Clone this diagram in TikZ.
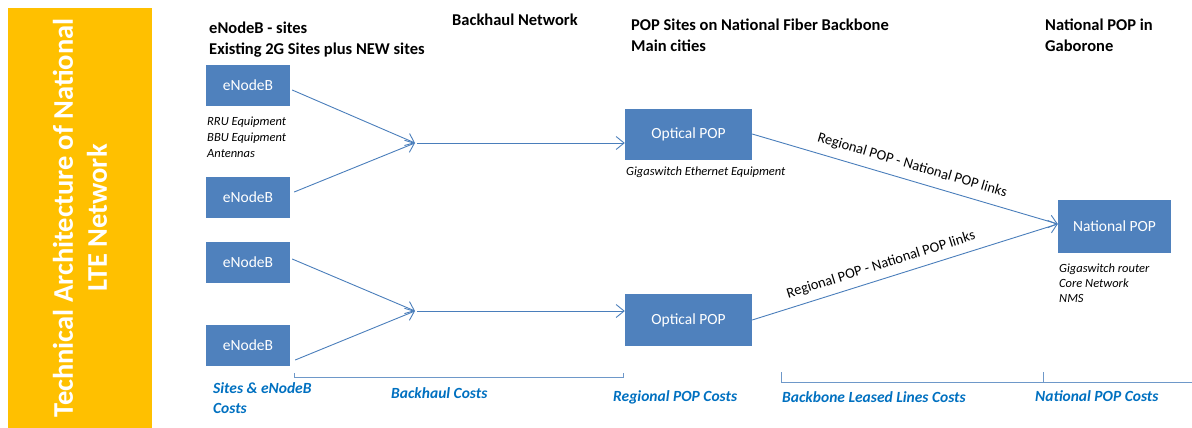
\documentclass[tikz,border=0pt]{standalone}
\usepackage{fontspec}
\setmainfont{Carlito}
\usetikzlibrary{positioning,arrows.meta}

\definecolor{boxblue}{HTML}{4F81BD}
\definecolor{linkblue}{HTML}{4A7EBB}
\definecolor{costblue}{HTML}{0070C0}
\definecolor{bargold}{HTML}{FFC000}

\tikzset{
	site/.style={fill=boxblue, text=white, inner sep=0pt, minimum width=84pt, minimum height=41pt, font=\fontsize{15.5}{18}\selectfont},
	pop/.style={site, minimum width=127pt, minimum height=51pt},
	link/.style={draw=linkblue, line width=0.9pt, -{Straight Barb[length=8pt,width=13pt]}},
	heading/.style={anchor=base west, inner sep=0pt, align=left, font=\bfseries\fontsize{16.5}{21.5}\selectfont},
	note/.style={anchor=base west, inner sep=0pt, align=left, font=\itshape\fontsize{12.5}{16}\selectfont},
	cost/.style={anchor=base west, inner sep=0pt, align=left, text=costblue, font=\bfseries\itshape\fontsize{15.5}{20}\selectfont},
	bracket/.style={draw=linkblue!80, line width=0.8pt},
	linklabel/.style={sloped, inner sep=0pt, font=\fontsize{14.5}{17}\selectfont}
}

\begin{document}
\begin{tikzpicture}[x=1pt, y=-1pt]
	\useasboundingbox (0,0) rectangle (1192,428);

	% Title bar:
	\fill[bargold] (8,8) rectangle (152,428);
	\node[rotate=90, text=white, align=center, font=\bfseries\fontsize{28.5}{34}\selectfont] (title) at (80,218) {Technical Architecture of National\\LTE Network};

	% Instances:
	\node[site] (enb1) at (248,85.5) {eNodeB};
	\node[site] (enb2) at (248,197.5) {eNodeB};
	\node[site] (enb3) at (248,262) {eNodeB};
	\node[site] (enb4) at (248,345.5) {eNodeB};

	\node[pop] (opt1) at (688.5,134) {Optical POP};
	\node[pop, minimum height=52pt] (opt2) at (688.5,320) {Optical POP};
	\node[pop, minimum width=113pt, minimum height=53pt] (natpop) at (1114.5,226.5) {National POP};

	% backhaul merge points
	\coordinate (bh1) at (415,143);
	\coordinate (bh2) at (415,311);
	\coordinate (natin) at ([yshift=2.5pt]natpop.west);

	% Lines:
	\draw[link] ([shift={(2,4.5)}]enb1.east) -- (bh1);
	\draw[link] ([shift={(4,-5.5)}]enb2.east) -- (bh1);
	\draw[link] ([shift={(2,-3)}]enb3.east) -- (bh2);
	\draw[link] ([shift={(5,14.5)}]enb4.east) -- (bh2);
	\draw[link, shorten <=2pt] (bh1) -- (bh1 -| opt1.west);
	\draw[link, shorten <=2pt] (bh2) -- (bh2 -| opt2.west);

	\draw[link] (opt1.east) -- node[linklabel, above=8pt, pos=0.51] (lnk1) {Regional POP - National POP links} (natin);
	\draw[link] (opt2.east) -- node[linklabel, above=7pt, pos=0.435] (lnk2) {Regional POP - National POP links} (natin);

	% Cost brackets
	\draw[bracket] (294,373) |- (623,377) -- (623,373);
	\draw[bracket] (781,372) |- (1043,382) -- (1043,372);
	\draw[bracket] (1043,382) -- (1192,382);

	% Labels (multi-line ones sit on their last baseline)
	\node[heading] (hdsites) at (209,55) {eNodeB - sites\\Existing 2G Sites plus NEW sites};
	\node[heading] (hdbackhaul) at (452,26) {Backhaul Network};
	\node[heading] (hdpop) at (631,52) {POP Sites on National Fiber Backbone\\Main cities};
	\node[heading] (hdnat) at (1045,52) {National POP in\\Gaborone};

	\node[note] (enbnote) at (207,157) {RRU Equipment\\BBU Equipment\\Antennas};
	\node[note] (optnote) at (626,175) {Gigaswitch Ethernet Equipment};
	\node[note, font=\itshape\fontsize{12.5}{15}\selectfont] (natnote) at (1059,302) {Gigaswitch router\\Core Network\\NMS};

	\node[cost] (cstsites) at (213,413) {Sites \& eNodeB\\Costs};
	\node[cost] (cstbackhaul) at (391,398) {Backhaul Costs};
	\node[cost] (cstregional) at (613,401) {Regional POP Costs};
	\node[cost] (cstbackbone) at (782,402) {Backbone Leased Lines Costs};
	\node[cost] (cstnational) at (1035,401) {National POP Costs};

\end{tikzpicture}
\end{document}
